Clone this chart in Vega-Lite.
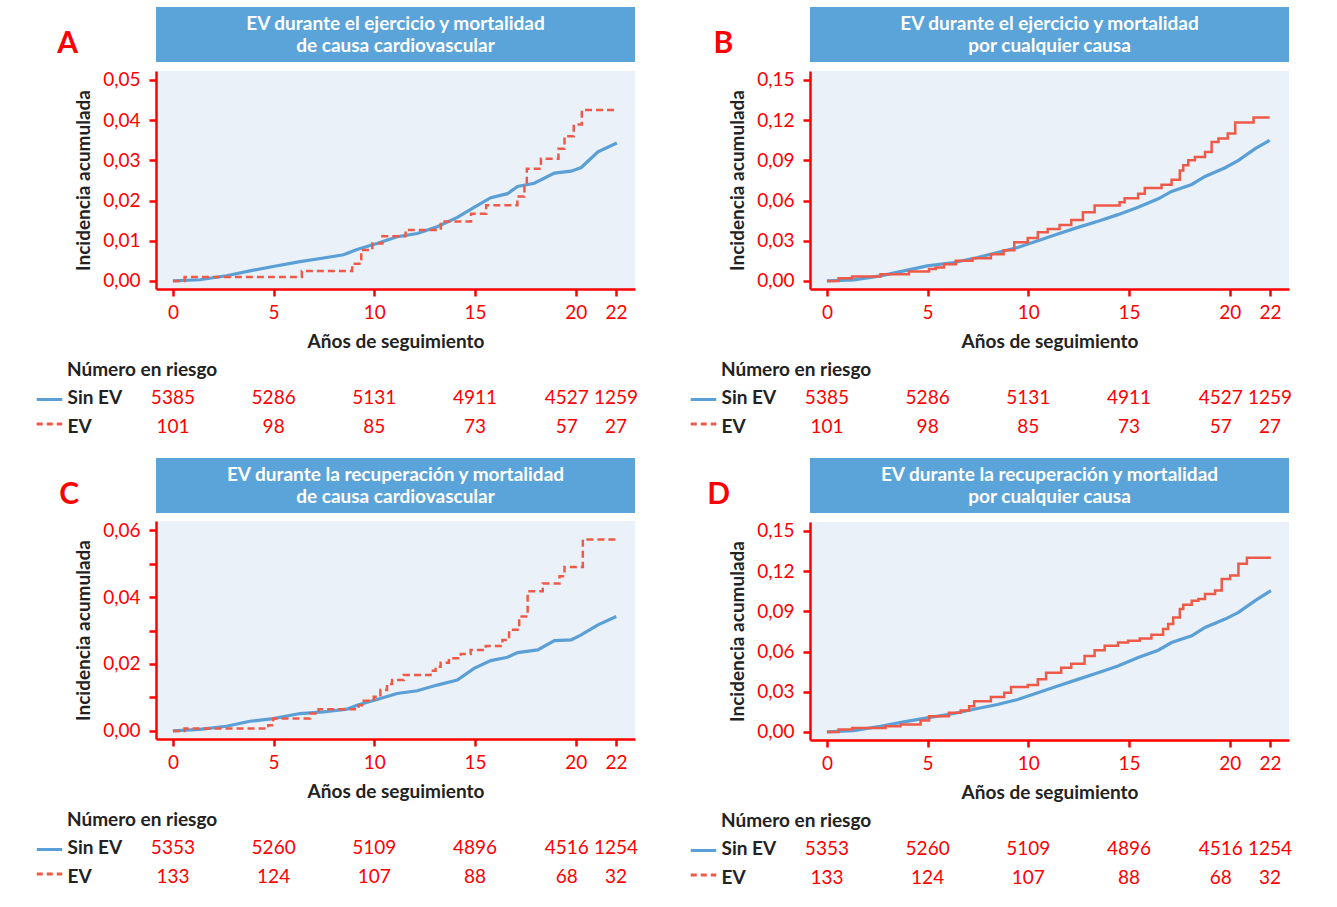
{
"$schema": "https://vega.github.io/schema/vega-lite/v6.json",
"padding": {"left": 35, "top": 7, "right": 5, "bottom": 5},
"background": "white",
"config": {
  "font": "Lato",
  "view": {"stroke": null},
  "axis": {"domainColor": "#ff0000", "domainWidth": 2.5, "tickColor": "#ff0000", "tickWidth": 2.5, "tickSize": 7, "labelColor": "#ff0000", "labelFontSize": 19, "labelPadding": 7, "titleFontSize": 19, "titleFontWeight": "bold", "titleColor": "#222222", "grid": false},
  "axisY": {"labelPadding": 9, "titlePadding": 9},
  "axisX": {"titlePadding": 10}
},
"datasets": {
  "titles": [
    {"p": "A", "title": "EV durante el ejercicio y mortalidad\nde causa cardiovascular"},
    {"p": "B", "title": "EV durante el ejercicio y mortalidad\npor cualquier causa"},
    {"p": "C", "title": "EV durante la recuperación y mortalidad\nde causa cardiovascular"},
    {"p": "D", "title": "EV durante la recuperación y mortalidad\npor cualquier causa"}
  ],
  "risk": [
    {"p": "A", "g": "Sin EV", "t": 0, "n": "5385"}, {"p": "A", "g": "Sin EV", "t": 5, "n": "5286"}, {"p": "A", "g": "Sin EV", "t": 10, "n": "5131"}, {"p": "A", "g": "Sin EV", "t": 15, "n": "4911"}, {"p": "A", "g": "Sin EV", "t": 20, "n": "4527"}, {"p": "A", "g": "Sin EV", "t": 22, "n": "1259"},
    {"p": "A", "g": "EV", "t": 0, "n": "101"}, {"p": "A", "g": "EV", "t": 5, "n": "98"}, {"p": "A", "g": "EV", "t": 10, "n": "85"}, {"p": "A", "g": "EV", "t": 15, "n": "73"}, {"p": "A", "g": "EV", "t": 20, "n": "57"}, {"p": "A", "g": "EV", "t": 22, "n": "27"},
    {"p": "B", "g": "Sin EV", "t": 0, "n": "5385"}, {"p": "B", "g": "Sin EV", "t": 5, "n": "5286"}, {"p": "B", "g": "Sin EV", "t": 10, "n": "5131"}, {"p": "B", "g": "Sin EV", "t": 15, "n": "4911"}, {"p": "B", "g": "Sin EV", "t": 20, "n": "4527"}, {"p": "B", "g": "Sin EV", "t": 22, "n": "1259"},
    {"p": "B", "g": "EV", "t": 0, "n": "101"}, {"p": "B", "g": "EV", "t": 5, "n": "98"}, {"p": "B", "g": "EV", "t": 10, "n": "85"}, {"p": "B", "g": "EV", "t": 15, "n": "73"}, {"p": "B", "g": "EV", "t": 20, "n": "57"}, {"p": "B", "g": "EV", "t": 22, "n": "27"},
    {"p": "C", "g": "Sin EV", "t": 0, "n": "5353"}, {"p": "C", "g": "Sin EV", "t": 5, "n": "5260"}, {"p": "C", "g": "Sin EV", "t": 10, "n": "5109"}, {"p": "C", "g": "Sin EV", "t": 15, "n": "4896"}, {"p": "C", "g": "Sin EV", "t": 20, "n": "4516"}, {"p": "C", "g": "Sin EV", "t": 22, "n": "1254"},
    {"p": "C", "g": "EV", "t": 0, "n": "133"}, {"p": "C", "g": "EV", "t": 5, "n": "124"}, {"p": "C", "g": "EV", "t": 10, "n": "107"}, {"p": "C", "g": "EV", "t": 15, "n": "88"}, {"p": "C", "g": "EV", "t": 20, "n": "68"}, {"p": "C", "g": "EV", "t": 22, "n": "32"},
    {"p": "D", "g": "Sin EV", "t": 0, "n": "5353"}, {"p": "D", "g": "Sin EV", "t": 5, "n": "5260"}, {"p": "D", "g": "Sin EV", "t": 10, "n": "5109"}, {"p": "D", "g": "Sin EV", "t": 15, "n": "4896"}, {"p": "D", "g": "Sin EV", "t": 20, "n": "4516"}, {"p": "D", "g": "Sin EV", "t": 22, "n": "1254"},
    {"p": "D", "g": "EV", "t": 0, "n": "133"}, {"p": "D", "g": "EV", "t": 5, "n": "124"}, {"p": "D", "g": "EV", "t": 10, "n": "107"}, {"p": "D", "g": "EV", "t": 15, "n": "88"}, {"p": "D", "g": "EV", "t": 20, "n": "68"}, {"p": "D", "g": "EV", "t": 22, "n": "32"}
  ],
  "curves": [
    {"p":"A","g":"Sin EV","t":0,"v":0},{"p":"A","g":"Sin EV","t":1.33,"v":0.0003},{"p":"A","g":"Sin EV","t":2.66,"v":0.0013},{"p":"A","g":"Sin EV","t":3.82,"v":0.0025},{"p":"A","g":"Sin EV","t":4.98,"v":0.0036},{"p":"A","g":"Sin EV","t":6.31,"v":0.0048},{"p":"A","g":"Sin EV","t":7.48,"v":0.0057},{"p":"A","g":"Sin EV","t":8.47,"v":0.0065},{"p":"A","g":"Sin EV","t":9.14,"v":0.0078},{"p":"A","g":"Sin EV","t":10.13,"v":0.0093},{"p":"A","g":"Sin EV","t":11.13,"v":0.011},{"p":"A","g":"Sin EV","t":12.13,"v":0.0118},{"p":"A","g":"Sin EV","t":13.12,"v":0.0135},{"p":"A","g":"Sin EV","t":14.12,"v":0.0158},{"p":"A","g":"Sin EV","t":14.95,"v":0.0183},{"p":"A","g":"Sin EV","t":15.78,"v":0.0207},{"p":"A","g":"Sin EV","t":16.61,"v":0.0217},{"p":"A","g":"Sin EV","t":17.11,"v":0.0235},{"p":"A","g":"Sin EV","t":17.94,"v":0.0243},{"p":"A","g":"Sin EV","t":18.94,"v":0.0268},{"p":"A","g":"Sin EV","t":19.77,"v":0.0273},{"p":"A","g":"Sin EV","t":20.27,"v":0.0282},{"p":"A","g":"Sin EV","t":21.1,"v":0.0321},{"p":"A","g":"Sin EV","t":22.04,"v":0.0343},
    {"p":"A","g":"EV","t":0,"v":0},{"p":"A","g":"EV","t":0.58,"v":0.001},{"p":"A","g":"EV","t":6.4,"v":0.0025},{"p":"A","g":"EV","t":8.9,"v":0.0043},{"p":"A","g":"EV","t":9.35,"v":0.0077},{"p":"A","g":"EV","t":9.9,"v":0.0093},{"p":"A","g":"EV","t":10.4,"v":0.0111},{"p":"A","g":"EV","t":11.55,"v":0.0127},{"p":"A","g":"EV","t":13.3,"v":0.0148},{"p":"A","g":"EV","t":14.8,"v":0.0167},{"p":"A","g":"EV","t":15.55,"v":0.0188},{"p":"A","g":"EV","t":17.1,"v":0.021},{"p":"A","g":"EV","t":17.45,"v":0.0235},{"p":"A","g":"EV","t":17.57,"v":0.0279},{"p":"A","g":"EV","t":18.27,"v":0.0304},{"p":"A","g":"EV","t":19.14,"v":0.0329},{"p":"A","g":"EV","t":19.44,"v":0.036},{"p":"A","g":"EV","t":19.9,"v":0.0389},{"p":"A","g":"EV","t":20.3,"v":0.0425},{"p":"A","g":"EV","t":22.04,"v":0.0425},
    {"p":"B","g":"Sin EV","t":0,"v":0},{"p":"B","g":"Sin EV","t":1.33,"v":0.00075},{"p":"B","g":"Sin EV","t":2.66,"v":0.00375},{"p":"B","g":"Sin EV","t":3.82,"v":0.0075},{"p":"B","g":"Sin EV","t":4.98,"v":0.01125},{"p":"B","g":"Sin EV","t":6.31,"v":0.01375},{"p":"B","g":"Sin EV","t":7.48,"v":0.0175},{"p":"B","g":"Sin EV","t":8.47,"v":0.02125},{"p":"B","g":"Sin EV","t":9.47,"v":0.025},{"p":"B","g":"Sin EV","t":10.47,"v":0.03},{"p":"B","g":"Sin EV","t":11.46,"v":0.035},{"p":"B","g":"Sin EV","t":12.46,"v":0.04},{"p":"B","g":"Sin EV","t":13.46,"v":0.0445},{"p":"B","g":"Sin EV","t":14.45,"v":0.0495},{"p":"B","g":"Sin EV","t":15.45,"v":0.055},{"p":"B","g":"Sin EV","t":16.45,"v":0.0613},{"p":"B","g":"Sin EV","t":17.11,"v":0.0668},{"p":"B","g":"Sin EV","t":18.11,"v":0.072},{"p":"B","g":"Sin EV","t":18.77,"v":0.078},{"p":"B","g":"Sin EV","t":19.77,"v":0.0845},{"p":"B","g":"Sin EV","t":20.43,"v":0.09},{"p":"B","g":"Sin EV","t":21.26,"v":0.0988},{"p":"B","g":"Sin EV","t":21.98,"v":0.105},
    {"p":"B","g":"EV","t":0,"v":0},{"p":"B","g":"EV","t":0.58,"v":0.002},{"p":"B","g":"EV","t":1.25,"v":0.00325},{"p":"B","g":"EV","t":2.66,"v":0.005},{"p":"B","g":"EV","t":4.07,"v":0.007},{"p":"B","g":"EV","t":5.07,"v":0.009},{"p":"B","g":"EV","t":5.4,"v":0.01},{"p":"B","g":"EV","t":5.81,"v":0.0125},{"p":"B","g":"EV","t":6.4,"v":0.015},{"p":"B","g":"EV","t":7.23,"v":0.017},{"p":"B","g":"EV","t":8.14,"v":0.02},{"p":"B","g":"EV","t":8.77,"v":0.023},{"p":"B","g":"EV","t":9.3,"v":0.0288},{"p":"B","g":"EV","t":9.97,"v":0.032},{"p":"B","g":"EV","t":10.47,"v":0.0363},{"p":"B","g":"EV","t":10.96,"v":0.0388},{"p":"B","g":"EV","t":11.55,"v":0.0418},{"p":"B","g":"EV","t":12.13,"v":0.0455},{"p":"B","g":"EV","t":12.71,"v":0.0513},{"p":"B","g":"EV","t":13.29,"v":0.0563},{"p":"B","g":"EV","t":14.53,"v":0.0588},{"p":"B","g":"EV","t":14.78,"v":0.0618},{"p":"B","g":"EV","t":15.45,"v":0.065},{"p":"B","g":"EV","t":15.78,"v":0.0693},{"p":"B","g":"EV","t":16.61,"v":0.0718},{"p":"B","g":"EV","t":17.11,"v":0.0755},{"p":"B","g":"EV","t":17.52,"v":0.0825},{"p":"B","g":"EV","t":17.69,"v":0.0863},{"p":"B","g":"EV","t":17.94,"v":0.09},{"p":"B","g":"EV","t":18.27,"v":0.0925},{"p":"B","g":"EV","t":18.77,"v":0.0963},{"p":"B","g":"EV","t":19.1,"v":0.1038},{"p":"B","g":"EV","t":19.44,"v":0.1063},{"p":"B","g":"EV","t":19.9,"v":0.11},{"p":"B","g":"EV","t":20.27,"v":0.1183},{"p":"B","g":"EV","t":21.18,"v":0.122},{"p":"B","g":"EV","t":21.98,"v":0.122},
    {"p":"C","g":"Sin EV","t":0,"v":0},{"p":"C","g":"Sin EV","t":1.33,"v":0.0005},{"p":"C","g":"Sin EV","t":2.66,"v":0.0014},{"p":"C","g":"Sin EV","t":3.82,"v":0.0029},{"p":"C","g":"Sin EV","t":4.98,"v":0.0037},{"p":"C","g":"Sin EV","t":6.31,"v":0.0052},{"p":"C","g":"Sin EV","t":7.48,"v":0.0057},{"p":"C","g":"Sin EV","t":8.64,"v":0.0065},{"p":"C","g":"Sin EV","t":9.14,"v":0.0077},{"p":"C","g":"Sin EV","t":10.13,"v":0.0094},{"p":"C","g":"Sin EV","t":11.13,"v":0.0112},{"p":"C","g":"Sin EV","t":12.13,"v":0.012},{"p":"C","g":"Sin EV","t":13.12,"v":0.0137},{"p":"C","g":"Sin EV","t":14.12,"v":0.0152},{"p":"C","g":"Sin EV","t":14.95,"v":0.0187},{"p":"C","g":"Sin EV","t":15.78,"v":0.021},{"p":"C","g":"Sin EV","t":16.61,"v":0.022},{"p":"C","g":"Sin EV","t":17.11,"v":0.0234},{"p":"C","g":"Sin EV","t":18.11,"v":0.0242},{"p":"C","g":"Sin EV","t":18.94,"v":0.027},{"p":"C","g":"Sin EV","t":19.77,"v":0.0272},{"p":"C","g":"Sin EV","t":20.27,"v":0.0287},{"p":"C","g":"Sin EV","t":21.1,"v":0.0317},{"p":"C","g":"Sin EV","t":22.01,"v":0.0342},
    {"p":"C","g":"EV","t":0,"v":0},{"p":"C","g":"EV","t":0.58,"v":0.0007},{"p":"C","g":"EV","t":4.73,"v":0.0017},{"p":"C","g":"EV","t":4.98,"v":0.0037},{"p":"C","g":"EV","t":6.81,"v":0.0052},{"p":"C","g":"EV","t":7.23,"v":0.0065},{"p":"C","g":"EV","t":9.22,"v":0.0077},{"p":"C","g":"EV","t":9.47,"v":0.009},{"p":"C","g":"EV","t":9.97,"v":0.0102},{"p":"C","g":"EV","t":10.3,"v":0.0122},{"p":"C","g":"EV","t":10.63,"v":0.014},{"p":"C","g":"EV","t":10.88,"v":0.0152},{"p":"C","g":"EV","t":11.46,"v":0.0167},{"p":"C","g":"EV","t":12.79,"v":0.018},{"p":"C","g":"EV","t":13.04,"v":0.0192},{"p":"C","g":"EV","t":13.29,"v":0.0204},{"p":"C","g":"EV","t":13.7,"v":0.0217},{"p":"C","g":"EV","t":14.29,"v":0.023},{"p":"C","g":"EV","t":14.78,"v":0.0242},{"p":"C","g":"EV","t":15.53,"v":0.0254},{"p":"C","g":"EV","t":16.36,"v":0.0272},{"p":"C","g":"EV","t":16.69,"v":0.0302},{"p":"C","g":"EV","t":17.19,"v":0.0342},{"p":"C","g":"EV","t":17.61,"v":0.0417},{"p":"C","g":"EV","t":18.36,"v":0.044},{"p":"C","g":"EV","t":19.19,"v":0.0462},{"p":"C","g":"EV","t":19.44,"v":0.049},{"p":"C","g":"EV","t":20.35,"v":0.0572},{"p":"C","g":"EV","t":22.04,"v":0.0572},
    {"p":"D","g":"Sin EV","t":0,"v":0},{"p":"D","g":"Sin EV","t":1.33,"v":0.001},{"p":"D","g":"Sin EV","t":2.66,"v":0.00425},{"p":"D","g":"Sin EV","t":3.82,"v":0.0075},{"p":"D","g":"Sin EV","t":4.98,"v":0.0105},{"p":"D","g":"Sin EV","t":6.31,"v":0.01375},{"p":"D","g":"Sin EV","t":7.48,"v":0.0175},{"p":"D","g":"Sin EV","t":8.47,"v":0.0205},{"p":"D","g":"Sin EV","t":9.47,"v":0.02425},{"p":"D","g":"Sin EV","t":10.47,"v":0.02925},{"p":"D","g":"Sin EV","t":11.46,"v":0.03425},{"p":"D","g":"Sin EV","t":12.46,"v":0.03925},{"p":"D","g":"Sin EV","t":13.46,"v":0.04425},{"p":"D","g":"Sin EV","t":14.45,"v":0.04925},{"p":"D","g":"Sin EV","t":15.45,"v":0.0555},{"p":"D","g":"Sin EV","t":16.45,"v":0.061},{"p":"D","g":"Sin EV","t":17.11,"v":0.06675},{"p":"D","g":"Sin EV","t":18.11,"v":0.07175},{"p":"D","g":"Sin EV","t":18.77,"v":0.078},{"p":"D","g":"Sin EV","t":19.77,"v":0.08425},{"p":"D","g":"Sin EV","t":20.43,"v":0.08925},{"p":"D","g":"Sin EV","t":21.26,"v":0.098},{"p":"D","g":"Sin EV","t":22.04,"v":0.1055},
    {"p":"D","g":"EV","t":0,"v":0},{"p":"D","g":"EV","t":0.58,"v":0.00175},{"p":"D","g":"EV","t":1.25,"v":0.003},{"p":"D","g":"EV","t":2.91,"v":0.00425},{"p":"D","g":"EV","t":3.65,"v":0.0055},{"p":"D","g":"EV","t":4.65,"v":0.0085},{"p":"D","g":"EV","t":5.07,"v":0.01175},{"p":"D","g":"EV","t":6.06,"v":0.01425},{"p":"D","g":"EV","t":6.64,"v":0.016},{"p":"D","g":"EV","t":7.06,"v":0.01925},{"p":"D","g":"EV","t":7.31,"v":0.023},{"p":"D","g":"EV","t":8.14,"v":0.026},{"p":"D","g":"EV","t":8.8,"v":0.02925},{"p":"D","g":"EV","t":9.14,"v":0.0335},{"p":"D","g":"EV","t":9.97,"v":0.035},{"p":"D","g":"EV","t":10.47,"v":0.03925},{"p":"D","g":"EV","t":10.88,"v":0.04425},{"p":"D","g":"EV","t":11.63,"v":0.048},{"p":"D","g":"EV","t":12.13,"v":0.051},{"p":"D","g":"EV","t":12.79,"v":0.05675},{"p":"D","g":"EV","t":13.29,"v":0.061},{"p":"D","g":"EV","t":13.79,"v":0.06425},{"p":"D","g":"EV","t":14.45,"v":0.06675},{"p":"D","g":"EV","t":14.95,"v":0.068},{"p":"D","g":"EV","t":15.53,"v":0.06975},{"p":"D","g":"EV","t":16.11,"v":0.0725},{"p":"D","g":"EV","t":16.69,"v":0.07675},{"p":"D","g":"EV","t":16.94,"v":0.0805},{"p":"D","g":"EV","t":17.19,"v":0.0855},{"p":"D","g":"EV","t":17.52,"v":0.09175},{"p":"D","g":"EV","t":17.69,"v":0.095},{"p":"D","g":"EV","t":18.11,"v":0.098},{"p":"D","g":"EV","t":18.44,"v":0.09925},{"p":"D","g":"EV","t":18.77,"v":0.103},{"p":"D","g":"EV","t":19.27,"v":0.1055},{"p":"D","g":"EV","t":19.6,"v":0.11425},{"p":"D","g":"EV","t":20.02,"v":0.11675},{"p":"D","g":"EV","t":20.43,"v":0.1255},{"p":"D","g":"EV","t":20.85,"v":0.13},{"p":"D","g":"EV","t":22.04,"v":0.13}
  ]
},
"spacing": 17,
"resolve": {"scale": {"color": "independent", "strokeDash": "independent"}},
"vconcat": [
 {"hconcat": [
  {"vconcat": [
   {"vconcat": [
    {"width": 479, "height": 55, "view": {"fill": "#5ba4d9", "stroke": null}, "data": {"name": "titles"}, "transform": [{"filter": "datum.p == 'A'"}],
     "title": {"text": "A", "orient": "left", "angle": 0, "align": "right", "baseline": "middle", "offset": 57, "dy": 9, "fontSize": 30, "fontWeight": "bold", "color": "#ff0000"},
     "mark": {"type": "text", "color": "white", "fontWeight": "bold", "fontSize": 19, "lineBreak": "\n", "lineHeight": 22, "baseline": "middle", "dy": -11},
     "encoding": {"text": {"field": "title"}}},
    {"width": 479, "height": 218, "view": {"fill": "#eaf1f9", "stroke": null}, "data": {"name": "curves"}, "transform": [{"filter": "datum.p == 'A'"}],
     "encoding": {
       "x": {"field": "t", "type": "quantitative", "scale": {"domain": [-0.84, 22.94], "nice": false, "zero": false}, "axis": {"values": [0, 5, 10, 15, 20, 22], "title": "Años de seguimiento"}},
       "y": {"field": "v", "type": "quantitative", "scale": {"domain": [-0.002, 0.0522], "nice": false, "zero": false}, "axis": {"values": [0, 0.01, 0.02, 0.03, 0.04, 0.05], "labelExpr": "replace(format(datum.value, '.2f'), '.', ',')", "title": "Incidencia acumulada"}}},
     "layer": [
       {"transform": [{"filter": "datum.g == 'Sin EV'"}], "mark": {"type": "line", "color": "#5a9fd5", "strokeWidth": 3.2}},
       {"transform": [{"filter": "datum.g == 'EV'"}], "mark": {"type": "line", "color": "#ef5a48", "strokeWidth": 2.5, "interpolate": "step-after", "strokeDash": [7, 4]}}
     ]}
   ], "spacing": 8},
    {"width": 479, "height": 58, "data": {"name": "risk"}, "transform": [{"filter": "datum.p == 'A'"}],
     "title": {"text": "Número en riesgo", "anchor": "start", "frame": "group", "dx": -89, "fontSize": 19, "fontWeight": "bold", "color": "#222222", "offset": 3},
     "encoding": {"y": {"field": "g", "type": "nominal", "scale": {"domain": ["Sin EV", "EV"]}, "axis": {"title": null, "domain": false, "ticks": false, "labelAlign": "left", "labelPadding": 89, "labelColor": "#222222", "labelFontWeight": "bold", "labelFontSize": 19}}},
     "layer": [
       {"transform": [{"filter": "datum.t != 20"}], "mark": {"type": "text", "color": "#ff0000", "fontSize": 19}, "encoding": {"x": {"field": "t", "type": "quantitative", "scale": {"domain": [-0.84, 22.94], "nice": false, "zero": false}, "axis": null}, "text": {"field": "n", "type": "nominal"}}},
       {"transform": [{"filter": "datum.t == 20"}], "mark": {"type": "text", "color": "#ff0000", "fontSize": 19, "dx": -9}, "encoding": {"x": {"field": "t", "type": "quantitative", "scale": {"domain": [-0.84, 22.94], "nice": false, "zero": false}, "axis": null}, "text": {"field": "n", "type": "nominal"}}},
       {"transform": [{"filter": "datum.t == 0"}], "mark": {"type": "rule", "opacity": 0}, "encoding": {
         "color": {"field": "g", "type": "nominal", "scale": {"domain": ["Sin EV", "EV"], "range": ["#5a9fd5", "#ef5a48"]}, "legend": {"orient": "none", "legendX": -121, "legendY": 2, "title": null, "symbolType": "stroke", "symbolSize": 650, "symbolStrokeWidth": 3, "symbolOpacity": 1, "labelExpr": "''", "labelOffset": 0, "padding": 0, "rowPadding": 3.5}},
         "strokeDash": {"field": "g", "type": "nominal", "scale": {"domain": ["Sin EV", "EV"], "range": [[1, 0], [6, 4]]}, "legend": {"orient": "none", "legendX": -121, "legendY": 2, "title": null, "symbolType": "stroke", "symbolSize": 650, "symbolStrokeWidth": 3, "symbolOpacity": 1, "labelExpr": "''", "labelOffset": 0, "padding": 0, "rowPadding": 3.5}}}}
     ]}
  ], "spacing": 10, "resolve": {"scale": {"color": "independent", "strokeDash": "independent"}}},
  {"vconcat": [
   {"vconcat": [
    {"width": 479, "height": 55, "view": {"fill": "#5ba4d9", "stroke": null}, "data": {"name": "titles"}, "transform": [{"filter": "datum.p == 'B'"}],
     "title": {"text": "B", "orient": "left", "angle": 0, "align": "right", "baseline": "middle", "offset": 57, "dy": 9, "fontSize": 30, "fontWeight": "bold", "color": "#ff0000"},
     "mark": {"type": "text", "color": "white", "fontWeight": "bold", "fontSize": 19, "lineBreak": "\n", "lineHeight": 22, "baseline": "middle", "dy": -11},
     "encoding": {"text": {"field": "title"}}},
    {"width": 479, "height": 218, "view": {"fill": "#eaf1f9", "stroke": null}, "data": {"name": "curves"}, "transform": [{"filter": "datum.p == 'B'"}],
     "encoding": {
       "x": {"field": "t", "type": "quantitative", "scale": {"domain": [-0.84, 22.94], "nice": false, "zero": false}, "axis": {"values": [0, 5, 10, 15, 20, 22], "title": "Años de seguimiento"}},
       "y": {"field": "v", "type": "quantitative", "scale": {"domain": [-0.006, 0.1567], "nice": false, "zero": false}, "axis": {"values": [0, 0.03, 0.06, 0.09, 0.12, 0.15], "labelExpr": "replace(format(datum.value, '.2f'), '.', ',')", "title": "Incidencia acumulada"}}},
     "layer": [
       {"transform": [{"filter": "datum.g == 'Sin EV'"}], "mark": {"type": "line", "color": "#5a9fd5", "strokeWidth": 3.2}},
       {"transform": [{"filter": "datum.g == 'EV'"}], "mark": {"type": "line", "color": "#ef5a48", "strokeWidth": 2.5, "interpolate": "step-after"}}
     ]}
   ], "spacing": 8},
    {"width": 479, "height": 58, "data": {"name": "risk"}, "transform": [{"filter": "datum.p == 'B'"}],
     "title": {"text": "Número en riesgo", "anchor": "start", "frame": "group", "dx": -89, "fontSize": 19, "fontWeight": "bold", "color": "#222222", "offset": 3},
     "encoding": {"y": {"field": "g", "type": "nominal", "scale": {"domain": ["Sin EV", "EV"]}, "axis": {"title": null, "domain": false, "ticks": false, "labelAlign": "left", "labelPadding": 89, "labelColor": "#222222", "labelFontWeight": "bold", "labelFontSize": 19}}},
     "layer": [
       {"transform": [{"filter": "datum.t != 20"}], "mark": {"type": "text", "color": "#ff0000", "fontSize": 19}, "encoding": {"x": {"field": "t", "type": "quantitative", "scale": {"domain": [-0.84, 22.94], "nice": false, "zero": false}, "axis": null}, "text": {"field": "n", "type": "nominal"}}},
       {"transform": [{"filter": "datum.t == 20"}], "mark": {"type": "text", "color": "#ff0000", "fontSize": 19, "dx": -9}, "encoding": {"x": {"field": "t", "type": "quantitative", "scale": {"domain": [-0.84, 22.94], "nice": false, "zero": false}, "axis": null}, "text": {"field": "n", "type": "nominal"}}},
       {"transform": [{"filter": "datum.t == 0"}], "mark": {"type": "rule", "opacity": 0}, "encoding": {
         "color": {"field": "g", "type": "nominal", "scale": {"domain": ["Sin EV", "EV"], "range": ["#5a9fd5", "#ef5a48"]}, "legend": {"orient": "none", "legendX": -121, "legendY": 2, "title": null, "symbolType": "stroke", "symbolSize": 650, "symbolStrokeWidth": 3, "symbolOpacity": 1, "labelExpr": "''", "labelOffset": 0, "padding": 0, "rowPadding": 3.5}},
         "strokeDash": {"field": "g", "type": "nominal", "scale": {"domain": ["Sin EV", "EV"], "range": [[1, 0], [6, 4]]}, "legend": {"orient": "none", "legendX": -121, "legendY": 2, "title": null, "symbolType": "stroke", "symbolSize": 650, "symbolStrokeWidth": 3, "symbolOpacity": 1, "labelExpr": "''", "labelOffset": 0, "padding": 0, "rowPadding": 3.5}}}}
     ]}
  ], "spacing": 10, "resolve": {"scale": {"color": "independent", "strokeDash": "independent"}}}
 ], "spacing": 50, "resolve": {"scale": {"color": "independent", "strokeDash": "independent"}}},
 {"hconcat": [
  {"vconcat": [
   {"vconcat": [
    {"width": 479, "height": 55, "view": {"fill": "#5ba4d9", "stroke": null}, "data": {"name": "titles"}, "transform": [{"filter": "datum.p == 'C'"}],
     "title": {"text": "C", "orient": "left", "angle": 0, "align": "right", "baseline": "middle", "offset": 57, "dy": 9, "fontSize": 30, "fontWeight": "bold", "color": "#ff0000"},
     "mark": {"type": "text", "color": "white", "fontWeight": "bold", "fontSize": 19, "lineBreak": "\n", "lineHeight": 22, "baseline": "middle", "dy": -11},
     "encoding": {"text": {"field": "title"}}},
    {"width": 479, "height": 218, "view": {"fill": "#eaf1f9", "stroke": null}, "data": {"name": "curves"}, "transform": [{"filter": "datum.p == 'C'"}],
     "encoding": {
       "x": {"field": "t", "type": "quantitative", "scale": {"domain": [-0.84, 22.94], "nice": false, "zero": false}, "axis": {"values": [0, 5, 10, 15, 20, 22], "title": "Años de seguimiento"}},
       "y": {"field": "v", "type": "quantitative", "scale": {"domain": [-0.0024, 0.0627], "nice": false, "zero": false}, "axis": {"values": [0, 0.01, 0.02, 0.03, 0.04, 0.05, 0.06], "labelExpr": "round(datum.value * 100) % 2 == 0 ? replace(format(datum.value, '.2f'), '.', ',') : ''", "title": "Incidencia acumulada"}}},
     "layer": [
       {"transform": [{"filter": "datum.g == 'Sin EV'"}], "mark": {"type": "line", "color": "#5a9fd5", "strokeWidth": 3.2}},
       {"transform": [{"filter": "datum.g == 'EV'"}], "mark": {"type": "line", "color": "#ef5a48", "strokeWidth": 2.5, "interpolate": "step-after", "strokeDash": [7, 4]}}
     ]}
   ], "spacing": 8},
    {"width": 479, "height": 58, "data": {"name": "risk"}, "transform": [{"filter": "datum.p == 'C'"}],
     "title": {"text": "Número en riesgo", "anchor": "start", "frame": "group", "dx": -89, "fontSize": 19, "fontWeight": "bold", "color": "#222222", "offset": 3},
     "encoding": {"y": {"field": "g", "type": "nominal", "scale": {"domain": ["Sin EV", "EV"]}, "axis": {"title": null, "domain": false, "ticks": false, "labelAlign": "left", "labelPadding": 89, "labelColor": "#222222", "labelFontWeight": "bold", "labelFontSize": 19}}},
     "layer": [
       {"transform": [{"filter": "datum.t != 20"}], "mark": {"type": "text", "color": "#ff0000", "fontSize": 19}, "encoding": {"x": {"field": "t", "type": "quantitative", "scale": {"domain": [-0.84, 22.94], "nice": false, "zero": false}, "axis": null}, "text": {"field": "n", "type": "nominal"}}},
       {"transform": [{"filter": "datum.t == 20"}], "mark": {"type": "text", "color": "#ff0000", "fontSize": 19, "dx": -9}, "encoding": {"x": {"field": "t", "type": "quantitative", "scale": {"domain": [-0.84, 22.94], "nice": false, "zero": false}, "axis": null}, "text": {"field": "n", "type": "nominal"}}},
       {"transform": [{"filter": "datum.t == 0"}], "mark": {"type": "rule", "opacity": 0}, "encoding": {
         "color": {"field": "g", "type": "nominal", "scale": {"domain": ["Sin EV", "EV"], "range": ["#5a9fd5", "#ef5a48"]}, "legend": {"orient": "none", "legendX": -121, "legendY": 2, "title": null, "symbolType": "stroke", "symbolSize": 650, "symbolStrokeWidth": 3, "symbolOpacity": 1, "labelExpr": "''", "labelOffset": 0, "padding": 0, "rowPadding": 3.5}},
         "strokeDash": {"field": "g", "type": "nominal", "scale": {"domain": ["Sin EV", "EV"], "range": [[1, 0], [6, 4]]}, "legend": {"orient": "none", "legendX": -121, "legendY": 2, "title": null, "symbolType": "stroke", "symbolSize": 650, "symbolStrokeWidth": 3, "symbolOpacity": 1, "labelExpr": "''", "labelOffset": 0, "padding": 0, "rowPadding": 3.5}}}}
     ]}
  ], "spacing": 10, "resolve": {"scale": {"color": "independent", "strokeDash": "independent"}}},
  {"vconcat": [
   {"vconcat": [
    {"width": 479, "height": 55, "view": {"fill": "#5ba4d9", "stroke": null}, "data": {"name": "titles"}, "transform": [{"filter": "datum.p == 'D'"}],
     "title": {"text": "D", "orient": "left", "angle": 0, "align": "right", "baseline": "middle", "offset": 57, "dy": 9, "fontSize": 30, "fontWeight": "bold", "color": "#ff0000"},
     "mark": {"type": "text", "color": "white", "fontWeight": "bold", "fontSize": 19, "lineBreak": "\n", "lineHeight": 22, "baseline": "middle", "dy": -11},
     "encoding": {"text": {"field": "title"}}},
    {"width": 479, "height": 218, "view": {"fill": "#eaf1f9", "stroke": null}, "data": {"name": "curves"}, "transform": [{"filter": "datum.p == 'D'"}],
     "encoding": {
       "x": {"field": "t", "type": "quantitative", "scale": {"domain": [-0.84, 22.94], "nice": false, "zero": false}, "axis": {"values": [0, 5, 10, 15, 20, 22], "title": "Años de seguimiento"}},
       "y": {"field": "v", "type": "quantitative", "scale": {"domain": [-0.006, 0.1567], "nice": false, "zero": false}, "axis": {"values": [0, 0.03, 0.06, 0.09, 0.12, 0.15], "labelExpr": "replace(format(datum.value, '.2f'), '.', ',')", "title": "Incidencia acumulada"}}},
     "layer": [
       {"transform": [{"filter": "datum.g == 'Sin EV'"}], "mark": {"type": "line", "color": "#5a9fd5", "strokeWidth": 3.2}},
       {"transform": [{"filter": "datum.g == 'EV'"}], "mark": {"type": "line", "color": "#ef5a48", "strokeWidth": 2.5, "interpolate": "step-after"}}
     ]}
   ], "spacing": 8},
    {"width": 479, "height": 58, "data": {"name": "risk"}, "transform": [{"filter": "datum.p == 'D'"}],
     "title": {"text": "Número en riesgo", "anchor": "start", "frame": "group", "dx": -89, "fontSize": 19, "fontWeight": "bold", "color": "#222222", "offset": 3},
     "encoding": {"y": {"field": "g", "type": "nominal", "scale": {"domain": ["Sin EV", "EV"]}, "axis": {"title": null, "domain": false, "ticks": false, "labelAlign": "left", "labelPadding": 89, "labelColor": "#222222", "labelFontWeight": "bold", "labelFontSize": 19}}},
     "layer": [
       {"transform": [{"filter": "datum.t != 20"}], "mark": {"type": "text", "color": "#ff0000", "fontSize": 19}, "encoding": {"x": {"field": "t", "type": "quantitative", "scale": {"domain": [-0.84, 22.94], "nice": false, "zero": false}, "axis": null}, "text": {"field": "n", "type": "nominal"}}},
       {"transform": [{"filter": "datum.t == 20"}], "mark": {"type": "text", "color": "#ff0000", "fontSize": 19, "dx": -9}, "encoding": {"x": {"field": "t", "type": "quantitative", "scale": {"domain": [-0.84, 22.94], "nice": false, "zero": false}, "axis": null}, "text": {"field": "n", "type": "nominal"}}},
       {"transform": [{"filter": "datum.t == 0"}], "mark": {"type": "rule", "opacity": 0}, "encoding": {
         "color": {"field": "g", "type": "nominal", "scale": {"domain": ["Sin EV", "EV"], "range": ["#5a9fd5", "#ef5a48"]}, "legend": {"orient": "none", "legendX": -121, "legendY": 2, "title": null, "symbolType": "stroke", "symbolSize": 650, "symbolStrokeWidth": 3, "symbolOpacity": 1, "labelExpr": "''", "labelOffset": 0, "padding": 0, "rowPadding": 3.5}},
         "strokeDash": {"field": "g", "type": "nominal", "scale": {"domain": ["Sin EV", "EV"], "range": [[1, 0], [6, 4]]}, "legend": {"orient": "none", "legendX": -121, "legendY": 2, "title": null, "symbolType": "stroke", "symbolSize": 650, "symbolStrokeWidth": 3, "symbolOpacity": 1, "labelExpr": "''", "labelOffset": 0, "padding": 0, "rowPadding": 3.5}}}}
     ]}
  ], "spacing": 10, "resolve": {"scale": {"color": "independent", "strokeDash": "independent"}}}
 ], "spacing": 50, "resolve": {"scale": {"color": "independent", "strokeDash": "independent"}}}
]
}
